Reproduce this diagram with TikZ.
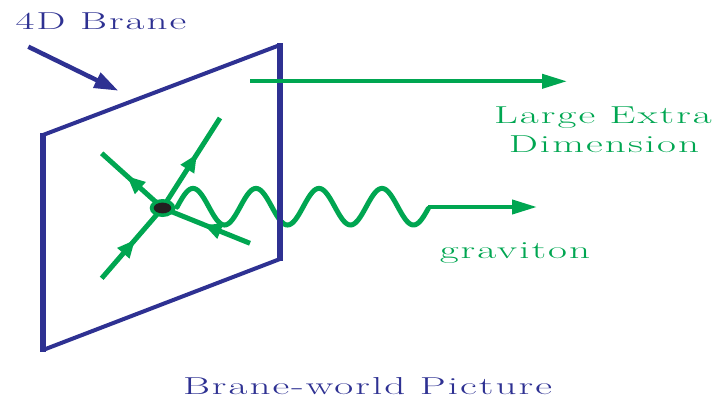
\documentclass[tikz,border=0pt]{standalone}
\usepackage{fontspec}
\newfontfamily\spacedfont[LetterSpace=5]{Latin Modern Roman}
\usetikzlibrary{arrows.meta,decorations.markings}
\definecolor{braneblue}{RGB}{46,49,146}
\definecolor{fgreen}{RGB}{0,166,81}
\definecolor{dotblack}{RGB}{35,31,32}
\newcommand{\spaced}{\spacedfont\fontsize{24.5}{29}\selectfont}
\newcommand{\wide}[1]{\scalebox{1.68}[1]{#1}}
\tikzset{
  edge thin/.style={draw=braneblue, line width=4pt, line join=miter},
  edge thick/.style={draw=braneblue, line width=5.5pt},
  fermion/.style={draw=fgreen, line width=5pt},
  bigarrow/.style={draw=fgreen, line width=4pt, -{Triangle[length=25pt,width=14pt]}},
  lab/.style={inner sep=0pt, anchor=base, font=\spaced},
  midarrow/.style={postaction={decorate}, decoration={markings,
     mark=at position #1 with {\arrow[fgreen]{Triangle[length=18pt,width=15pt]}}}},
}
\begin{document}
\begin{tikzpicture}[x=1pt,y=-1pt]
\useasboundingbox (0,0) rectangle (715,399);
% coordinates
\coordinate (TL) at (43,135);
\coordinate (BL) at (43,350);
\coordinate (BR) at (280,259);
\coordinate (TR) at (280,45);
\coordinate (V) at (162.5,208);
\coordinate (ur) at (220,118);
\coordinate (ul) at (101.7,153.3);
\coordinate (ll) at (101.7,278.3);
\coordinate (lr) at (250,243.3);
\coordinate (wend) at (428.3,207);
\coordinate (gtip) at (537,207);
\coordinate (xs) at (250,81.3);
\coordinate (xe) at (567,81.3);
\coordinate (bs) at (28.3,46.7);
\coordinate (be) at (118.3,90.7);
% graviton wave (under the brane edge)
\draw[fermion, line cap=round] plot[domain=177:428.3, samples=160, smooth]
  (\x, {206.7 - 18.3*cos(5.7143*(\x-193))});
% brane
\draw[edge thin] (TL) -- (TR);
\draw[edge thin] (BL) -- (BR);
\draw[edge thick] ([yshift=2pt]TL) -- ([yshift=-2pt]BL);
\draw[edge thick] ([yshift=2pt]TR) -- ([yshift=-2pt]BR);
% brane label arrow
\draw[draw=braneblue, line width=4.5pt, -{Triangle[length=24pt,width=16pt]}] (bs) -- (be);
\node[lab, text=braneblue] (brane) at (101,29) {\wide{4D Brane}};
% extra dimension arrow
\draw[bigarrow] (xs) -- (xe);
\node[lab, text=fgreen] (led1) at (603,123.3) {\wide{Large Extra}};
\node[lab, text=fgreen] (led2) at (604,152.7) {\wide{Dimension}};
% graviton arrow
\draw[bigarrow] (wend) -- (gtip);
\node[lab, text=fgreen] (grav) at (515,258.3) {\wide{graviton}};
% fermion lines
\draw[fermion, midarrow=0.6] (V) -- (ur);
\draw[fermion, midarrow=0.585] (V) -- (ul);
\draw[fermion, midarrow=0.55] (ll) -- (V);
\draw[fermion, midarrow=0.53] (lr) -- (V);
% vertex
\fill[fgreen] (V) ellipse (12.8 and 9);
\fill[dotblack] (V) ellipse (8.8 and 5.4);
% caption
\node[lab, text=braneblue] (cap) at (367.5,394.7) {\wide{Brane-world Picture}};
\end{tikzpicture}
\end{document}
